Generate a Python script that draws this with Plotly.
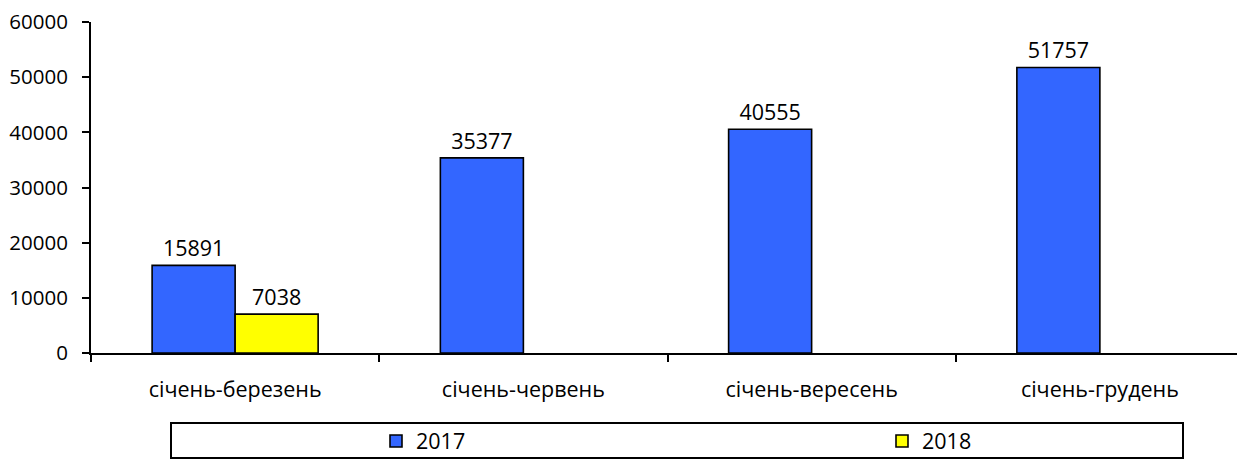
import plotly.graph_objects as go

categories = ["січень-березень", "січень-червень", "січень-вересень", "січень-грудень"]
values_2017 = [15891, 35377, 40555, 51757]
values_2018 = [7038, None, None, None]
series_names = ["2017", "2018"]
y_ticks = [0, 10000, 20000, 30000, 40000, 50000, 60000]

FONT = "Open Sans"
FS = 21.5

# page has an 8px body margin; figure placed so plot area sits at page x 91..1244, y 22..353
L, R, T, B = 83, 1, 14, 111
W, H = 1237, 456
PW = W - L - R
PH = H - T - B


def px_x(page_x):
    return (page_x - 8 - L) / PW


def px_y(page_y):
    return 1 - (page_y - 8 - T) / PH


fig = go.Figure()
fig.add_trace(go.Bar(
    x=categories, y=values_2017, name=series_names[0], legend="legend",
    marker=dict(color="#3366FF", line=dict(color="black", width=1.6)),
    text=[str(v) for v in values_2017], textposition="outside",
    textfont=dict(color="black", size=FS, family=FONT), cliponaxis=False,
))
fig.add_trace(go.Bar(
    x=categories, y=values_2018, name=series_names[1], legend="legend2",
    marker=dict(color="#FFFF00", line=dict(color="black", width=1.6)),
    text=[str(v) if v is not None else "" for v in values_2018], textposition="outside",
    textfont=dict(color="black", size=FS, family=FONT), cliponaxis=False,
))

leg_common = dict(
    orientation="h", xref="paper", yref="container", xanchor="left",
    y=1 - (441 - 8) / H, yanchor="middle",
    font=dict(family=FONT, size=FS, color="black"),
    bgcolor="rgba(0,0,0,0)", borderwidth=0, itemclick=False,
)

fig.update_layout(
    width=W, height=H,
    margin=dict(l=L, r=R, t=T, b=B, autoexpand=False),
    paper_bgcolor="white", plot_bgcolor="white",
    barmode="group", bargap=0.424, bargroupgap=0,
    font=dict(family=FONT, size=FS, color="black"),
    showlegend=True,
    legend=dict(x=px_x(376), **leg_common),
    legend2=dict(x=px_x(882), **leg_common),
    shapes=[dict(
        type="rect", xref="paper", yref="paper",
        x0=px_x(171), x1=px_x(1183),
        y0=px_y(458), y1=px_y(423),
        line=dict(color="black", width=2), fillcolor="rgba(0,0,0,0)", layer="above",
    )],
)
fig.update_xaxes(
    type="category", showline=True, linecolor="black", linewidth=2,
    ticks="outside", tickson="boundaries", ticklen=7, tickcolor="black", tickwidth=2,
    showgrid=False, tickfont=dict(family=FONT, size=FS, color="black"),
    ticklabelstandoff=16, ticklabeloverflow="allow",
)
fig.update_yaxes(
    range=[0, 60000], tickvals=y_ticks, ticktext=[str(v) for v in y_ticks],
    showline=True, linecolor="black", linewidth=2,
    ticks="outside", ticklen=7, tickcolor="black", tickwidth=2,
    showgrid=False, zeroline=False, tickfont=dict(family=FONT, size=20.5, color="black"),
    ticklabelstandoff=10, ticklabeloverflow="allow",
)

fig.write_html("out.html")
